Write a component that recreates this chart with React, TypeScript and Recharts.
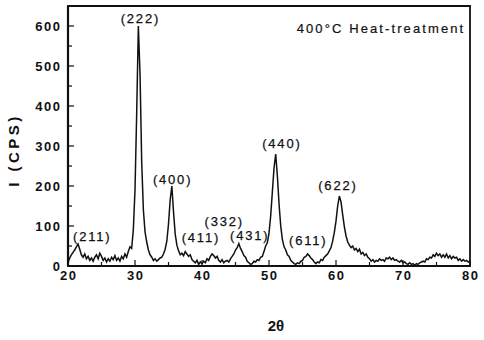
import React from 'react';
import { LineChart, Line, XAxis, YAxis, ReferenceArea, ReferenceDot } from 'recharts';

const FONT = '"Liberation Sans", Arial, Helvetica, sans-serif';

// Diffraction scan: 2θ from 20° to 80° in 0.25° steps
const scanStart = 20;
const scanStep = 0.25;
const counts = [
  8, 20, 28, 34,
  40, 48, 55, 42,
  28, 22, 30, 18,
  24, 14, 20, 12,
  22, 28, 18, 32,
  24, 14, 20, 10,
  18, 12, 22, 16,
  26, 14, 20, 12,
  24, 18, 30, 22,
  36, 48, 44, 90,
  190, 380, 600, 480,
  260, 140, 85, 60,
  40, 28, 22, 14,
  18, 12, 16, 20,
  22, 30, 42, 62,
  105, 165, 200, 135,
  80, 52, 38, 28,
  32, 26, 36, 30,
  24, 28, 16, 12,
  8, 14, 4, 10,
  6, 12, 8, 18,
  14, 24, 30, 26,
  20, 24, 14, 10,
  16, 8, 12, 14,
  10, 18, 24, 30,
  40, 46, 56, 44,
  36, 26, 22, 12,
  8, 4, 6, 12,
  10, 16, 14, 22,
  24, 36, 50, 58,
  82, 125, 185, 245,
  280, 225, 155, 100,
  66, 48, 40, 28,
  24, 14, 10, 6,
  4, 8, 6, 12,
  14, 22, 24, 30,
  26, 20, 16, 10,
  6, 10, 8, 16,
  14, 22, 26, 30,
  38, 46, 62, 84,
  112, 150, 175, 160,
  128, 98, 75, 60,
  52, 46, 50, 40,
  44, 36, 42, 30,
  34, 26, 30, 22,
  18, 12, 16, 10,
  14, 12, 18, 14,
  16, 12, 20, 18,
  22, 16, 20, 14,
  16, 12, 10, 14,
  8, 10, 6, 4,
  8, 4, 6, 2,
  6, 4, 8, 10,
  12, 10, 18, 16,
  22, 20, 28, 24,
  32, 26, 30, 22,
  28, 22, 30, 20,
  26, 18, 24, 20,
  22, 14, 18, 12,
  16, 12, 14, 10,
  12,
];

const xTicks = [20, 25, 30, 35, 40, 45, 50, 55, 60, 65, 70, 75, 80];
const xTickLabels = [20, 30, 40, 50, 60, 70, 80];
const yTicks = [0, 50, 100, 150, 200, 250, 300, 350, 400, 450, 500, 550, 600];
const yTickLabels = [0, 100, 200, 300, 400, 500, 600];

// Miller indices and where each annotation sits (2θ, counts)
const reflections = ['(211)', '(222)', '(400)', '(411)', '(332)', '(431)', '(440)', '(611)', '(622)'];
const reflectionAngles = [23.48, 30.67, 35.48, 39.7, 43.18, 47.0, 51.79, 55.72, 60.15];
const reflectionLevels = [73, 620, 216, 71, 112, 77, 306, 63, 201];

const title = '400°C Heat-treatment';
const xTitle = '2θ';
const yTitle = 'I (CPS)';

const data = counts.map((c, i) => ({ angle: scanStart + i * scanStep, counts: c }));

const tickText = {
  fontFamily: FONT,
  fontSize: 13,
  fontWeight: 700,
  fill: '#111',
  letterSpacing: 1.5,
};

const XTick = (props: any) => {
  const { x, y, payload } = props;
  const v = payload.value;
  const major = xTickLabels.includes(v);
  return (
    <g>
      <line x1={x} x2={x} y1={y} y2={y - (major ? 6 : 4)} stroke="#111" strokeWidth={1.2} />
      {major && (
        <text x={x + 0.75} y={y + 14} textAnchor="middle" {...tickText}>
          {v}
        </text>
      )}
    </g>
  );
};

const YTick = (props: any) => {
  const { x, y, payload } = props;
  const v = payload.value;
  const major = yTickLabels.includes(v);
  return (
    <g>
      <line x1={x} x2={x + (major ? 6 : 4)} y1={y} y2={y} stroke="#111" strokeWidth={1.2} />
      {major && (
        <text x={x - 6.5} y={y + 4.5} textAnchor="end" {...tickText}>
          {v}
        </text>
      )}
    </g>
  );
};

const YTitle = () => (
  <text
    x={19}
    y={150}
    transform="rotate(-90 19 150)"
    textAnchor="middle"
    fontFamily={FONT}
    fontSize={15}
    fontWeight={700}
    letterSpacing={3.5}
    fill="#111"
  >
    {yTitle}
  </text>
);

const XTitle = () => (
  <text x={276} y={331} textAnchor="middle" fontFamily={FONT} fontSize={15} fontWeight={700} fill="#111">
    {xTitle}
  </text>
);

const peakLabel = (text: string) => (props: any) => {
  const vb = props.viewBox || {};
  const cx = (vb.x ?? 0) + (vb.width ?? 0) / 2;
  const cy = (vb.y ?? 0) + (vb.height ?? 0) / 2;
  return (
    <text
      x={cx + 0.9}
      y={cy + 4.5}
      textAnchor="middle"
      fontFamily={FONT}
      fontSize={13}
      letterSpacing={1.8}
      fill="#111"
      stroke="#111"
      strokeWidth={0.25}
    >
      {text}
    </text>
  );
};

const titleLabel = (props: any) => {
  const vb = props.viewBox || {};
  return (
    <text
      x={(vb.x ?? 0) + 2}
      y={(vb.y ?? 0) + 4.5}
      textAnchor="end"
      fontFamily={FONT}
      fontSize={13}
      letterSpacing={2.1}
      fill="#111"
      stroke="#111"
      strokeWidth={0.2}
    >
      {title}
    </text>
  );
};

export default function App() {
  return (
    <div style={{ position: 'absolute', left: 0, top: 0, width: 484, height: 340, background: '#fff' }}>
      <LineChart width={484} height={340} data={data} margin={{ top: 6, right: 14, bottom: 44, left: 0 }}>
        <XAxis
          dataKey="angle"
          type="number"
          domain={[20, 80]}
          ticks={xTicks}
          interval={0}
          tickSize={0}
          tickMargin={0}
          tickLine={false}
          tick={<XTick />}
          axisLine={{ stroke: '#111', strokeWidth: 2.2 }}
          label={<XTitle />}
          allowDataOverflow
        />
        <YAxis
          type="number"
          width={68}
          domain={[0, 650]}
          ticks={yTicks}
          interval={0}
          tickSize={0}
          tickMargin={0}
          tickLine={false}
          tick={<YTick />}
          axisLine={{ stroke: '#111', strokeWidth: 2.2 }}
          label={<YTitle />}
          allowDataOverflow
        />
        <ReferenceArea x1={20} x2={80} y1={0} y2={650} fill="none" stroke="#111" strokeWidth={1.8} ifOverflow="visible" />
        <Line
          type="linear"
          dataKey="counts"
          stroke="#111"
          strokeWidth={1.5}
          dot={false}
          isAnimationActive={false}
        />
        {reflections.map((r, i) => (
          <ReferenceDot
            key={r}
            x={reflectionAngles[i]}
            y={reflectionLevels[i]}
            r={0}
            fill="none"
            stroke="none"
            label={peakLabel(r)}
            ifOverflow="visible"
          />
        ))}
        <ReferenceDot x={79} y={594} r={0} fill="none" stroke="none" label={titleLabel} ifOverflow="visible" />
      </LineChart>
    </div>
  );
}
